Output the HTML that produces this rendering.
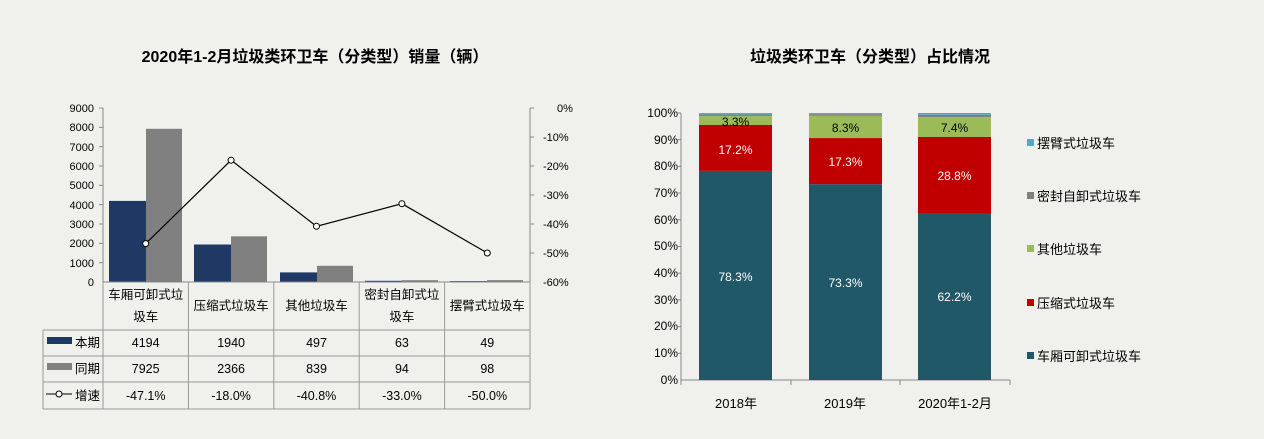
<!DOCTYPE html>
<html><head><meta charset="utf-8"><style>
html,body{margin:0;padding:0;background:#f0f1ec;width:1264px;height:439px;overflow:hidden;}
svg{display:block;font-family:"Liberation Sans","Noto Sans CJK SC",sans-serif;}
</style></head><body>
<svg width="1264" height="439" viewBox="0 0 1264 439" xmlns="http://www.w3.org/2000/svg">
<rect width="1264" height="439" fill="#f0f1ec"/>
<text x="315" y="62" text-anchor="middle" font-size="16" font-weight="bold" fill="#000">2020年1-2月垃圾类环卫车（分类型）销量（辆）</text>
<g font-size="11" fill="#000" text-anchor="end">
<text x="94" y="112">9000</text><text x="94" y="131">8000</text><text x="94" y="151">7000</text>
<text x="94" y="170">6000</text><text x="94" y="189">5000</text><text x="94" y="209">4000</text>
<text x="94" y="228">3000</text><text x="94" y="247">2000</text><text x="94" y="267">1000</text>
<text x="94" y="286">0</text>
</g>
<g stroke="#888" stroke-width="1">
<line x1="103" y1="108" x2="103" y2="282"/>
<line x1="99" y1="108" x2="103" y2="108"/><line x1="99" y1="127.3" x2="103" y2="127.3"/>
<line x1="99" y1="146.7" x2="103" y2="146.7"/><line x1="99" y1="166" x2="103" y2="166"/>
<line x1="99" y1="185.3" x2="103" y2="185.3"/><line x1="99" y1="204.7" x2="103" y2="204.7"/>
<line x1="99" y1="224" x2="103" y2="224"/><line x1="99" y1="243.3" x2="103" y2="243.3"/>
<line x1="99" y1="262.7" x2="103" y2="262.7"/>
<line x1="530" y1="108" x2="530" y2="282"/>
<line x1="530" y1="108" x2="534" y2="108"/><line x1="530" y1="137" x2="534" y2="137"/>
<line x1="530" y1="166" x2="534" y2="166"/><line x1="530" y1="195" x2="534" y2="195"/>
<line x1="530" y1="224" x2="534" y2="224"/><line x1="530" y1="253" x2="534" y2="253"/>
</g>
<g font-size="11" fill="#000">
<text x="557" y="112">0%</text><text x="543" y="141">-10%</text><text x="543" y="170">-20%</text>
<text x="543" y="199">-30%</text><text x="543" y="228">-40%</text><text x="543" y="257">-50%</text>
<text x="543" y="286">-60%</text>
</g>
<g fill="#1f3864">
<rect x="109" y="200.9" width="37" height="81.1"/>
<rect x="194" y="244.5" width="37" height="37.5"/>
<rect x="280" y="272.4" width="37" height="9.6"/>
<rect x="365" y="280.8" width="37" height="1.2"/>
<rect x="450" y="281.1" width="37" height="0.9"/>
</g>
<g fill="#808080">
<rect x="146" y="128.8" width="36" height="153.2"/>
<rect x="231" y="236.3" width="36" height="45.7"/>
<rect x="317" y="265.8" width="36" height="16.2"/>
<rect x="402" y="280.2" width="36" height="1.8"/>
<rect x="487" y="280.1" width="36" height="1.9"/>
</g>
<line x1="103" y1="282" x2="530" y2="282" stroke="#888"/>
<polyline points="145.7,243.6 231.1,160.2 316.5,226.3 401.9,203.7 487.3,253" fill="none" stroke="#000" stroke-width="1.2"/>
<g fill="#fff" stroke="#000" stroke-width="1">
<circle cx="145.7" cy="243.6" r="3"/><circle cx="231.1" cy="160.2" r="3"/>
<circle cx="316.5" cy="226.3" r="3"/><circle cx="401.9" cy="203.7" r="3"/><circle cx="487.3" cy="253" r="3"/>
</g>
<g stroke="#999" stroke-width="1" fill="none">
<line x1="103" y1="282" x2="103" y2="409"/>
<line x1="188.4" y1="282" x2="188.4" y2="409"/>
<line x1="273.8" y1="282" x2="273.8" y2="409"/>
<line x1="359.2" y1="282" x2="359.2" y2="409"/>
<line x1="444.6" y1="282" x2="444.6" y2="409"/>
<line x1="530" y1="282" x2="530" y2="409"/>
<line x1="43" y1="330" x2="530" y2="330"/>
<line x1="43" y1="356" x2="530" y2="356"/>
<line x1="43" y1="382" x2="530" y2="382"/>
<line x1="43" y1="409" x2="530" y2="409"/>
<line x1="43" y1="330" x2="43" y2="409"/>
</g>
<g font-size="12.5" fill="#000" text-anchor="middle">
<text x="145.7" y="299">车厢可卸式垃</text><text x="145.7" y="321">圾车</text>
<text x="231.1" y="310">压缩式垃圾车</text>
<text x="316.5" y="310">其他垃圾车</text>
<text x="401.9" y="299">密封自卸式垃</text><text x="401.9" y="321">圾车</text>
<text x="487.3" y="310">摆臂式垃圾车</text>
<text x="145.7" y="347">4194</text><text x="231.1" y="347">1940</text><text x="316.5" y="347">497</text><text x="401.9" y="347">63</text><text x="487.3" y="347">49</text>
<text x="145.7" y="373">7925</text><text x="231.1" y="373">2366</text><text x="316.5" y="373">839</text><text x="401.9" y="373">94</text><text x="487.3" y="373">98</text>
<text x="145.7" y="400">-47.1%</text><text x="231.1" y="400">-18.0%</text><text x="316.5" y="400">-40.8%</text><text x="401.9" y="400">-33.0%</text><text x="487.3" y="400">-50.0%</text>
</g>
<rect x="47" y="337" width="25" height="7" fill="#1f3864"/>
<rect x="47" y="363" width="25" height="7" fill="#808080"/>
<line x1="46" y1="394" x2="72" y2="394" stroke="#000"/>
<circle cx="59" cy="394" r="3" fill="#fff" stroke="#000"/>
<g font-size="12.5" fill="#000">
<text x="75" y="347">本期</text><text x="75" y="373">同期</text><text x="75" y="400">增速</text>
</g>
<text x="870" y="62" text-anchor="middle" font-size="16" font-weight="bold" fill="#000">垃圾类环卫车（分类型）占比情况</text>
<g font-size="12" fill="#000" text-anchor="end">
<text x="678" y="117">100%</text><text x="678" y="144">90%</text><text x="678" y="170">80%</text>
<text x="678" y="197">70%</text><text x="678" y="224">60%</text><text x="678" y="250">50%</text>
<text x="678" y="277">40%</text><text x="678" y="304">30%</text><text x="678" y="330">20%</text>
<text x="678" y="357">10%</text><text x="678" y="384">0%</text>
</g>
<g stroke="#888">
<line x1="681" y1="113" x2="681" y2="380"/>
<line x1="681" y1="380" x2="1010" y2="380"/>
<line x1="677" y1="113" x2="681" y2="113"/><line x1="677" y1="139.7" x2="681" y2="139.7"/>
<line x1="677" y1="166.4" x2="681" y2="166.4"/><line x1="677" y1="193.1" x2="681" y2="193.1"/>
<line x1="677" y1="219.8" x2="681" y2="219.8"/><line x1="677" y1="246.5" x2="681" y2="246.5"/>
<line x1="677" y1="273.2" x2="681" y2="273.2"/><line x1="677" y1="299.9" x2="681" y2="299.9"/>
<line x1="677" y1="326.6" x2="681" y2="326.6"/><line x1="677" y1="353.3" x2="681" y2="353.3"/>
<line x1="681" y1="380" x2="681" y2="385"/><line x1="791" y1="380" x2="791" y2="385"/>
<line x1="900" y1="380" x2="900" y2="385"/><line x1="1010" y1="380" x2="1010" y2="385"/>
</g>
<g>
<rect x="699" y="113" width="73" height="1.6" fill="#4bacc6"/>
<rect x="699" y="114.6" width="73" height="1.6" fill="#808080"/>
<rect x="699" y="116.2" width="73" height="8.8" fill="#9bbb59"/>
<rect x="699" y="125" width="73" height="45.9" fill="#c00000"/>
<rect x="699" y="170.9" width="73" height="209.1" fill="#215868"/>
<rect x="809" y="113" width="73" height="1.3" fill="#4bacc6"/>
<rect x="809" y="114.3" width="73" height="1.6" fill="#808080"/>
<rect x="809" y="115.9" width="73" height="22.2" fill="#9bbb59"/>
<rect x="809" y="138.1" width="73" height="46.2" fill="#c00000"/>
<rect x="809" y="184.3" width="73" height="195.7" fill="#215868"/>
<rect x="918" y="113" width="73" height="1.8" fill="#4bacc6"/>
<rect x="918" y="114.8" width="73" height="2.4" fill="#808080"/>
<rect x="918" y="117.2" width="73" height="19.8" fill="#9bbb59"/>
<rect x="918" y="137" width="73" height="76.9" fill="#c00000"/>
<rect x="918" y="213.9" width="73" height="166.1" fill="#215868"/>
</g>
<g font-size="12" text-anchor="middle">
<text x="735.5" y="126" fill="#000">3.3%</text>
<text x="735.5" y="154" fill="#fff">17.2%</text>
<text x="735.5" y="281" fill="#fff">78.3%</text>
<text x="845.5" y="132" fill="#000">8.3%</text>
<text x="845.5" y="166" fill="#fff">17.3%</text>
<text x="845.5" y="287" fill="#fff">73.3%</text>
<text x="954.5" y="132" fill="#000">7.4%</text>
<text x="954.5" y="180" fill="#fff">28.8%</text>
<text x="954.5" y="301" fill="#fff">62.2%</text>
</g>
<g font-size="13" fill="#000" text-anchor="middle">
<text x="736" y="408">2018年</text><text x="845" y="408">2019年</text><text x="955" y="408">2020年1-2月</text>
</g>
<g font-size="13" fill="#000">
<rect x="1027" y="139" width="7" height="7" fill="#4bacc6"/><text x="1037" y="148">摆臂式垃圾车</text>
<rect x="1027" y="192" width="7" height="7" fill="#808080"/><text x="1037" y="201">密封自卸式垃圾车</text>
<rect x="1027" y="245" width="7" height="7" fill="#9bbb59"/><text x="1037" y="254">其他垃圾车</text>
<rect x="1027" y="299" width="7" height="7" fill="#c00000"/><text x="1037" y="308">压缩式垃圾车</text>
<rect x="1027" y="352" width="7" height="7" fill="#215868"/><text x="1037" y="361">车厢可卸式垃圾车</text>
</g>
</svg>
</body></html>
